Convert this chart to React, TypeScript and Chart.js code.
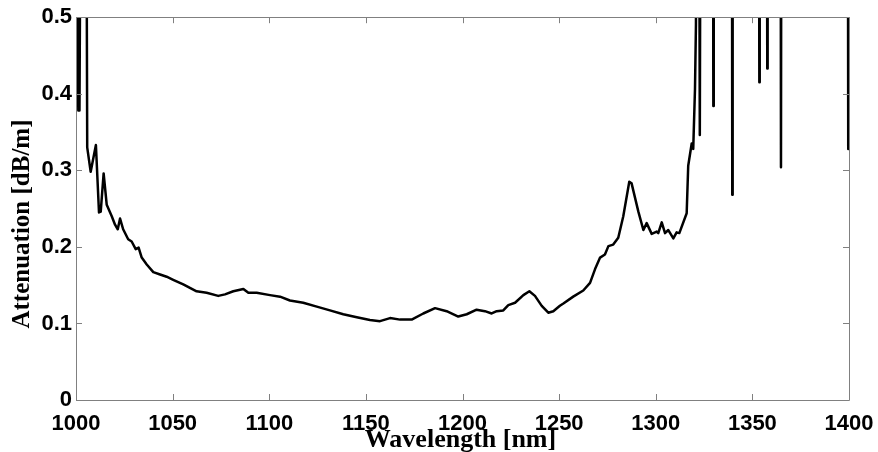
import { useEffect, useRef } from 'react';
import { Chart, registerables } from 'chart.js';

Chart.register(...registerables);

// Wavelength [nm]
const wavelength = [
  1000, 1001.2, 1001.8, 1002.5, 1005.3, 1005.8, 1007.6, 1010.3, 1011.9, 1012.8,
  1014.3, 1015.9, 1018.5, 1020.2, 1021.6, 1022.8, 1024.4, 1027, 1028.8, 1030.9,
  1032.4, 1034, 1036.6, 1040, 1043.5, 1046.9, 1050.3, 1055.5, 1062.4, 1067.6,
  1073.6, 1077.1, 1081.4, 1086.6, 1089.2, 1093.5, 1100.4, 1105.6, 1110.7, 1117.6,
  1124.6, 1131.4, 1138.3, 1145.3, 1152.1, 1157.3, 1162.5, 1167.7, 1173.7, 1179.7,
  1185.8, 1191.8, 1197.8, 1202.2, 1207.3, 1211.6, 1215.1, 1217.7, 1221.1, 1223.7,
  1227.2, 1231.5, 1234.6, 1237.5, 1241, 1244.4, 1247, 1250.4, 1252.2, 1257.3,
  1262.5, 1266, 1268.6, 1271.2, 1273.7, 1275.5, 1278, 1280.6, 1283.2, 1286.3,
  1287.5, 1291, 1293.6, 1295.3, 1297.9, 1300.5, 1301.3, 1303.1, 1304.8, 1306.5,
  1309.1, 1310.8, 1312.2, 1316, 1316.8, 1318.6, 1319.4, 1320.3, 1320.8, 1321.2,
  1322.4, 1322.8, 1323.2, 1329.6, 1329.8, 1330.0, 1339.4, 1339.6, 1339.8, 1353.4,
  1353.6, 1353.8, 1357.5, 1357.7, 1357.9, 1364.6, 1364.8, 1365.0, 1399.4, 1399.6,
  1400,
];

// Attenuation [dB/m]
const attenuation = [
  0.75, 0.378, 0.378, 0.75, 0.75, 0.33, 0.298, 0.333, 0.245, 0.246,
  0.296, 0.255, 0.24, 0.229, 0.223, 0.237, 0.223, 0.21, 0.207, 0.197,
  0.199, 0.186, 0.177, 0.167, 0.164, 0.161, 0.157, 0.151, 0.142, 0.14,
  0.136, 0.138, 0.142, 0.145, 0.14, 0.14, 0.137, 0.135, 0.13, 0.127,
  0.122, 0.117, 0.112, 0.108, 0.1045, 0.103, 0.107, 0.105, 0.105, 0.113,
  0.12, 0.116, 0.109, 0.112, 0.118, 0.116, 0.113, 0.116, 0.117, 0.124,
  0.127, 0.137, 0.142, 0.136, 0.123, 0.114, 0.116, 0.123, 0.126, 0.135,
  0.143, 0.153, 0.171, 0.186, 0.19, 0.201, 0.203, 0.212, 0.24, 0.285,
  0.283, 0.246, 0.222, 0.231, 0.217, 0.22, 0.218, 0.232, 0.218, 0.222,
  0.211, 0.219, 0.218, 0.244, 0.306, 0.335, 0.328, 0.406, 0.49, 0.75,
  0.75, 0.346, 0.75, 0.75, 0.384, 0.75, 0.75, 0.268, 0.75, 0.75,
  0.415, 0.75, 0.75, 0.433, 0.75, 0.75, 0.304, 0.75, 0.75, 0.328,
  0.75,
];

const xTicks = [1000, 1050, 1100, 1150, 1200, 1250, 1300, 1350, 1400];
const xTickLabels = ['1000', '1050', '1100', '1150', '1200', '1250', '1300', '1350', '1400'];
const yTicks = [0, 0.1, 0.2, 0.3, 0.4, 0.5];
const yTickLabels = ['0', '0.1', '0.2', '0.3', '0.4', '0.5'];

const xTitle = 'Wavelength [nm]';
const yTitle = 'Attenuation [dB/m]';

const frameColor = '#808080';
const xTitleFontCss = 'bold 26px "Liberation Serif", "Times New Roman", serif';
const yTitleFontCss = 'bold 25px "Liberation Serif", "Times New Roman", serif';

const framePlugin = {
  id: 'frameTicks',
  afterDatasetsDraw(chart: any) {
    const { ctx, chartArea, scales } = chart;
    const { left, right, top, bottom } = chartArea;
    const L = 6;
    ctx.save();
    ctx.strokeStyle = frameColor;
    ctx.lineWidth = 1;
    ctx.beginPath();
    ctx.rect(Math.round(left) + 0.5, Math.round(top) + 0.5, Math.round(right - left), Math.round(bottom - top));
    xTicks.forEach((v) => {
      const px = Math.round(scales.x.getPixelForValue(v)) + 0.5;
      ctx.moveTo(px, bottom);
      ctx.lineTo(px, bottom - L);
      ctx.moveTo(px, top);
      ctx.lineTo(px, top + L);
    });
    yTicks.forEach((v) => {
      const py = Math.round(scales.y.getPixelForValue(v)) + 0.5;
      ctx.moveTo(left, py);
      ctx.lineTo(left + L, py);
      ctx.moveTo(right, py);
      ctx.lineTo(right - L, py);
    });
    ctx.stroke();
    ctx.restore();
  },
  afterDraw(chart: any) {
    const { ctx, chartArea } = chart;
    ctx.save();
    ctx.fillStyle = '#000';
    ctx.textAlign = 'center';
    ctx.textBaseline = 'middle';
    ctx.font = xTitleFontCss;
    ctx.fillText(xTitle, (chartArea.left + chartArea.right) / 2 - 2, 440);
    ctx.font = yTitleFontCss;
    ctx.translate(23, 224);
    ctx.rotate(-Math.PI / 2);
    ctx.fillText(yTitle, 0, 0);
    ctx.restore();
  },
};

export default function App() {
  const ref = useRef<HTMLCanvasElement | null>(null);

  useEffect(() => {
    document.body.style.margin = '0';
    const canvas = ref.current;
    if (!canvas) return;
    const family = '"Liberation Sans", Arial, sans-serif';
    const chart = new Chart(canvas, {
      type: 'line',
      data: {
        datasets: [
          {
            data: wavelength.map((x, i) => ({ x, y: attenuation[i] })),
            borderColor: '#000',
            borderWidth: 2.5,
            pointRadius: 0,
            tension: 0,
            fill: false,
            borderJoinStyle: 'round',
          },
        ],
      },
      options: {
        animation: false,
        responsive: false,
        devicePixelRatio: 1,
        layout: { padding: { left: 0, right: 29, top: 14, bottom: 0 } },
        plugins: { legend: { display: false }, tooltip: { enabled: false } },
        scales: {
          x: {
            type: 'linear',
            min: 1000,
            max: 1400,
            afterBuildTicks: (s: any) => {
              s.ticks = xTicks.map((v) => ({ value: v }));
            },
            afterFit: (s: any) => {
              s.height = 52;
            },
            grid: { display: false, drawTicks: false },
            border: { display: false },
            ticks: {
              autoSkip: false,
              maxRotation: 0,
              padding: 4,
              color: '#000',
              font: { family, weight: 'bold', size: 22, lineHeight: 1.8 },
              callback: (v: any) => xTickLabels[xTicks.indexOf(Number(v))] ?? String(v),
            },
          },
          y: {
            type: 'linear',
            min: 0,
            max: 0.5,
            afterBuildTicks: (s: any) => {
              s.ticks = yTicks.map((v) => ({ value: v }));
            },
            afterFit: (s: any) => {
              s.width = 76;
            },
            grid: { display: false, drawTicks: false },
            border: { display: false },
            ticks: {
              autoSkip: false,
              padding: 4,
              color: '#000',
              font: { family, weight: 'bold', size: 22 },
              callback: (v: any) => yTickLabels[yTicks.findIndex((t) => Math.abs(t - Number(v)) < 1e-9)] ?? String(v),
            },
          },
        },
      },
      plugins: [framePlugin],
    });
    return () => chart.destroy();
  }, []);

  return <canvas ref={ref} width={878} height={452} style={{ display: 'block' }} />;
}
